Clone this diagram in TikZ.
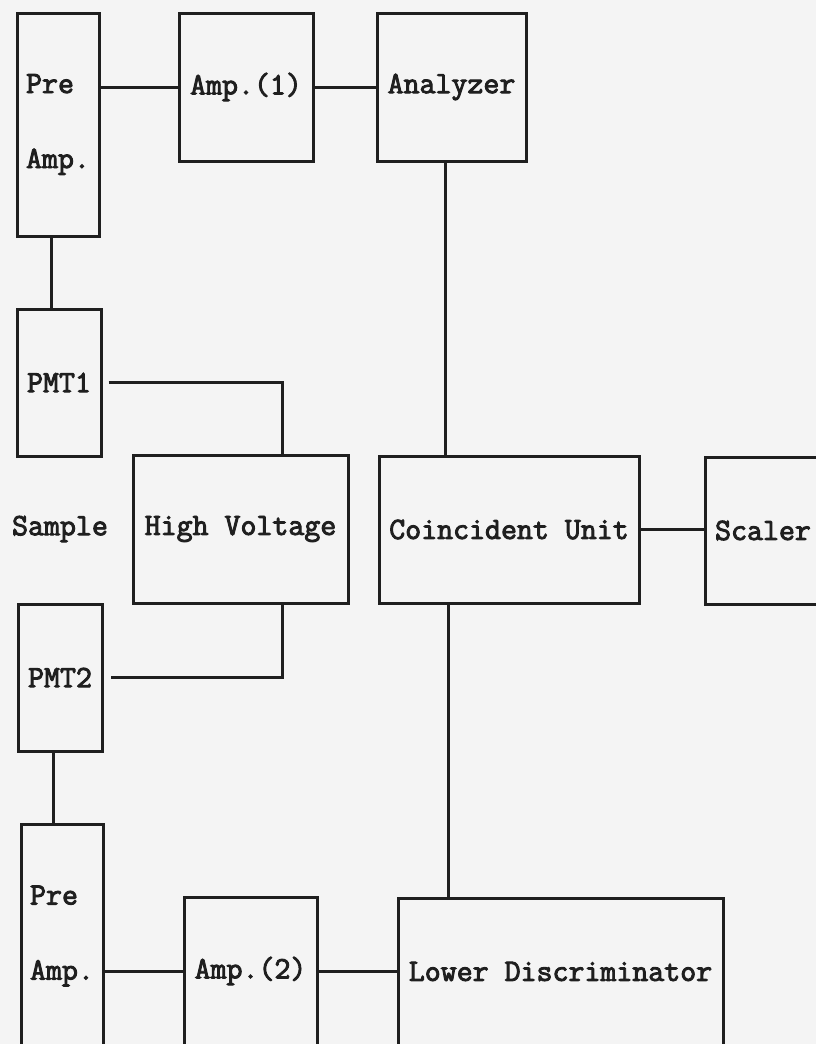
\documentclass[tikz,border=0pt]{standalone}
\usepackage{fontspec}
\newfontfamily\lblfont[FakeBold=3]{Latin Modern Mono}
\definecolor{ink}{gray}{0.12}
\definecolor{paper}{gray}{0.955}
\newcommand\lbl{\lblfont\fontsize{31}{75}\selectfont}
\tikzset{
  blk/.style={draw=ink, line width=3pt, inner sep=0pt, font=\lbl, align=left, text=ink},
  conn/.style={draw=ink, line width=3pt},
  plain/.style={inner sep=0pt, font=\lbl, text=ink}
}
\begin{document}
\begin{tikzpicture}[x=1pt,y=-1pt]
\path[use as bounding box, fill=paper] (0,0) rectangle (816,1044);
\clip (0,0) rectangle (816,1044);

\node[blk, minimum width=82, minimum height=223] (pre1) at (58,124.5) {Pre\\Amp.};
\node[blk, minimum width=134, minimum height=148] (amp1) at (246,87) {Amp.(1)};
\node[blk, minimum width=149, minimum height=148] (ana) at (451.5,87) {Analyzer};
\node[blk, minimum width=84, minimum height=147] (pmt1) at (59,382.5) {PMT1};
\node[plain] (sample) at (60,529) {Sample};
\node[blk, minimum width=215, minimum height=148] (hv) at (240.5,529) {High Voltage};
\node[blk, minimum width=260, minimum height=147] (coin) at (509,529.5) {Coincident Unit};
\node[blk, minimum width=116, minimum height=147] (scal) at (763,530.5) {Scaler};
\node[blk, minimum width=84, minimum height=147] (pmt2) at (60,677.5) {PMT2};
\node[blk, minimum width=82, minimum height=224] (pre2) at (62,936) {Pre\\Amp.};
\node[blk, minimum width=133, minimum height=148] (amp2) at (250.5,971) {Amp.(2)};
\node[blk, minimum width=325, minimum height=147] (ld) at (560.5,971.5) {Lower Discriminator};

\coordinate (hvtop) at ([xshift=41.5pt]hv.north);
\coordinate (hvbot) at ([xshift=41.5pt]hv.south);

\draw[conn] (pre1.east |- amp1.west) -- (amp1.west);
\draw[conn] (amp1.east) -- (ana.west);
\draw[conn] ([xshift=-6pt]ana.south) -- ([xshift=-6pt]ana.south |- coin.north);
\draw[conn] ([xshift=-7pt]pre1.south) -- ([xshift=-7pt]pre1.south |- pmt1.north);
\draw[conn] ([xshift=6pt]pmt1.east) -| (hvtop);
\draw[conn] (hvbot) |- ([xshift=7pt]pmt2.east);
\draw[conn] ([xshift=-7pt]pmt2.south) -- ([xshift=-7pt]pmt2.south |- pre2.north);
\draw[conn] (pre2.east |- amp2.west) -- (amp2.west);
\draw[conn] (amp2.east) -- (amp2.east -| ld.west);
\draw[conn] ([xshift=-61pt]coin.south) -- ([xshift=-61pt]coin.south |- ld.north);
\draw[conn] (coin.east) -- (coin.east -| scal.west);
\end{tikzpicture}
\end{document}
